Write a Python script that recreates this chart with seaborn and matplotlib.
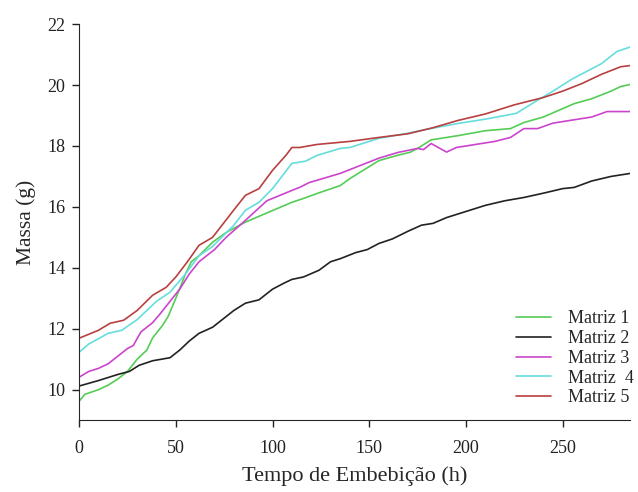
import pandas as pd
import numpy as np
import matplotlib
matplotlib.use('Agg')
import matplotlib.pyplot as plt
import seaborn as sns

# values (time in h, mass in g)
t1 = [0, 3, 10, 15, 20, 25, 30, 35, 38, 43, 46, 50, 55, 58, 62, 69, 76, 86, 97, 110, 117, 123,
      135, 140, 155, 165, 171, 175, 182, 196, 210, 223, 230, 240, 256, 265, 275, 280, 285]
m1 = [9.62, 9.85, 10.0, 10.15, 10.35, 10.6, 11.0, 11.3, 11.7, 12.1, 12.4, 13.0, 13.8, 14.2, 14.4,
      14.84, 15.16, 15.5, 15.8, 16.15, 16.3, 16.44, 16.7, 16.93, 17.52, 17.7, 17.79, 17.92, 18.2,
      18.34, 18.5, 18.57, 18.77, 18.95, 19.39, 19.55, 19.8, 19.95, 20.02]

t2 = [0, 10, 20, 26, 31, 38, 47, 52, 57, 62, 69, 75, 80, 86, 93, 100, 106, 110, 116, 124, 130,
      135, 143, 149, 155, 162, 170, 177, 183, 190, 200, 210, 220, 230, 240, 250, 256, 265, 275, 285]
m2 = [10.12, 10.3, 10.5, 10.6, 10.8, 10.95, 11.05, 11.3, 11.6, 11.85, 12.05, 12.35, 12.6, 12.84,
      12.95, 13.3, 13.5, 13.62, 13.7, 13.92, 14.2, 14.3, 14.5, 14.6, 14.8, 14.95, 15.2, 15.4, 15.46,
      15.65, 15.85, 16.05, 16.2, 16.31, 16.45, 16.6, 16.64, 16.85, 17.0, 17.1]

t3 = [0, 5, 10, 15, 20, 25, 28, 32, 38, 42, 47, 52, 57, 62, 70, 76, 86, 97, 110, 114, 119, 135,
      155, 165, 175, 178, 182, 190, 195, 205, 215, 223, 230, 237, 245, 255, 265, 273, 285]
m3 = [10.41, 10.6, 10.7, 10.85, 11.1, 11.35, 11.45, 11.9, 12.2, 12.5, 12.9, 13.3, 13.8, 14.2, 14.6,
      15.0, 15.56, 16.2, 16.54, 16.64, 16.8, 17.1, 17.6, 17.79, 17.92, 17.88, 18.08, 17.8, 17.95,
      18.05, 18.15, 18.28, 18.57, 18.57, 18.75, 18.85, 18.95, 19.13, 19.13]

t4 = [0, 5, 15, 22, 30, 40, 47, 55, 62, 69, 80, 86, 93, 100, 110, 117, 123, 135, 140, 155, 170,
      180, 196, 210, 226, 237, 245, 255, 261, 270, 278, 285]
m4 = [11.23, 11.5, 11.85, 11.95, 12.3, 12.9, 13.2, 13.8, 14.4, 14.7, 15.4, 15.89, 16.15, 16.6,
      17.43, 17.5, 17.69, 17.92, 17.95, 18.25, 18.42, 18.55, 18.74, 18.88, 19.07, 19.5, 19.8, 20.2,
      20.4, 20.7, 21.1, 21.25]

t5 = [0, 10, 16, 23, 30, 38, 45, 50, 56, 62, 69, 80, 86, 93, 100, 107, 110, 114, 123, 140, 155,
      170, 183, 196, 210, 225, 240, 250, 260, 270, 280, 285]
m5 = [11.69, 11.95, 12.18, 12.28, 12.6, 13.1, 13.36, 13.7, 14.2, 14.74, 15.0, 15.9, 16.38, 16.6,
      17.2, 17.7, 17.95, 17.95, 18.05, 18.15, 18.28, 18.4, 18.6, 18.84, 19.05, 19.35, 19.59, 19.8,
      20.05, 20.35, 20.6, 20.64]

labels = ['Matriz 1', 'Matriz 2', 'Matriz 3', 'Matriz  4', 'Matriz 5']
colors = ['#55cc55', '#222222', '#cc44cc', '#66dddd', '#b84040']

frames = []
for lab, t, m in zip(labels, [t1, t2, t3, t4, t5], [m1, m2, m3, m4, m5]):
    frames.append(pd.DataFrame({'tempo': t, 'massa': m, 'matriz': lab}))
df = pd.concat(frames, ignore_index=True)

sns.set_style('ticks')
plt.rcParams['font.family'] = ['Liberation Serif', 'DejaVu Serif']

fig = plt.figure(figsize=(6.38, 4.92), dpi=100)
ax = fig.add_axes([0.124, 0.146, 0.864, 0.805])
sns.lineplot(data=df, x='tempo', y='massa', hue='matriz', hue_order=labels,
             palette=dict(zip(labels, colors)), estimator=None, sort=False,
             linewidth=1.2, ax=ax)

ax.set_xlim(0, 285)
ax.set_ylim(9, 22)
ax.set_xticks([0, 50, 100, 150, 200, 250])
ax.set_yticks([10, 12, 14, 16, 18, 20, 22])
ax.tick_params(labelsize=13, length=5, width=1, colors='#222222')
ax.tick_params(axis='x', pad=9)
ax.tick_params(axis='y', pad=5)
ax.set_xlabel('Tempo de Embebição (h)', fontsize=16, labelpad=7)
ax.set_ylabel('Massa (g)', fontsize=15.5, labelpad=8)
sns.despine(ax=ax)

leg = ax.legend(loc='lower right', bbox_to_anchor=(1.007, 0.035), frameon=False, fontsize=13,
                handlelength=1.95, labelspacing=0.15, handletextpad=0.95,
                borderaxespad=0, borderpad=0)

fig.savefig('out.png', dpi=100)
